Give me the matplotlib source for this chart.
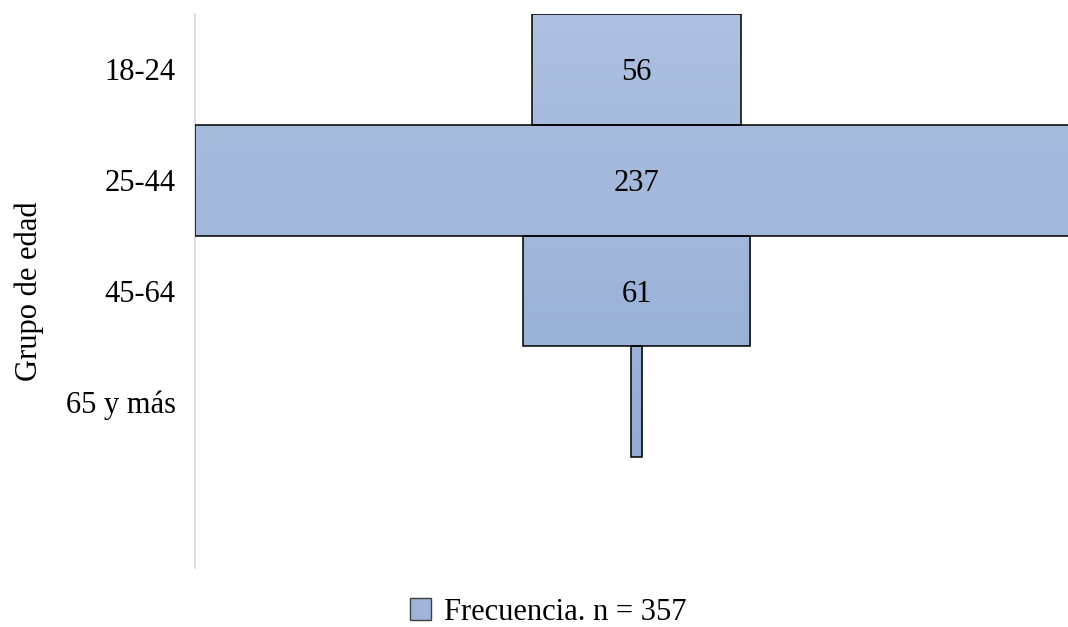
import matplotlib.pyplot as plt
import numpy as np
from matplotlib.colors import LinearSegmentedColormap
from matplotlib.patches import Patch

plt.rcParams['font.family'] = ['Liberation Serif', 'DejaVu Serif']

# Frecuencia por grupo de edad (n = 357)
grupos = ['18-24', '25-44', '45-64', '65 y más']
frecuencia = [56, 237, 61, 3]
n_total = 357
n_slots = 5  # el eje reserva un hueco vacío al final

fig = plt.figure(figsize=(10.68, 6.27), dpi=100)
ax = fig.add_axes([195 / 1068, 1 - 568 / 627, 1 - 195 / 1068, (568 - 14) / 627])

xmin, xmax = -118.5, 115.8
ax.set_xlim(xmin, xmax)
ax.set_ylim(n_slots - 0.5, -0.5)

# embudo: barras centradas en 0
pos = np.arange(len(grupos))
bars = ax.barh(pos, frecuencia, left=[-v / 2 for v in frecuencia], height=1.0,
               color='none', edgecolor='black', linewidth=1.1, zorder=3)

# relleno degradado (claro arriba, más oscuro abajo)
cmap = LinearSegmentedColormap.from_list('azul', ['#adc0df', '#8ea8d4'])
grad = np.linspace(0, 1, 256).reshape(-1, 1)
for b in bars:
    im = ax.imshow(grad, cmap=cmap, aspect='auto', origin='upper',
                   extent=[xmin, xmax, n_slots - 0.5, -0.5], zorder=2)
    im.set_clip_path(b)
ax.set_xlim(xmin, xmax)
ax.set_ylim(n_slots - 0.5, -0.5)

# etiquetas de valor en las barras con espacio suficiente
for i, v in enumerate(frecuencia):
    if v > 10:
        ax.text(0, i, str(v), ha='center', va='center_baseline', fontsize=22, zorder=4)

ax.set_yticks(pos)
ax.set_yticklabels(grupos, fontsize=22)
ax.tick_params(axis='y', length=0, pad=14)
ax.set_xticks([])
for s in ['top', 'right', 'bottom']:
    ax.spines[s].set_visible(False)
ax.spines['left'].set_color('#d9d9d9')
ax.spines['left'].set_linewidth(1.2)
ax.set_ylabel('Grupo de edad', fontsize=22)
ax.yaxis.set_label_coords(-151 / 873, 1 - (291 - 14) / 554)

handle = Patch(facecolor='#a0b4d9', edgecolor='#404040', linewidth=1.0)
fig.legend([handle], [f'Frecuencia. n = {n_total}'], loc='center',
           bbox_to_anchor=(548 / 1068, 1 - 612 / 627), frameon=False,
           fontsize=22, handlelength=0.7, handleheight=0.7, handletextpad=0.4)

fig.savefig('out.png', dpi=100)
